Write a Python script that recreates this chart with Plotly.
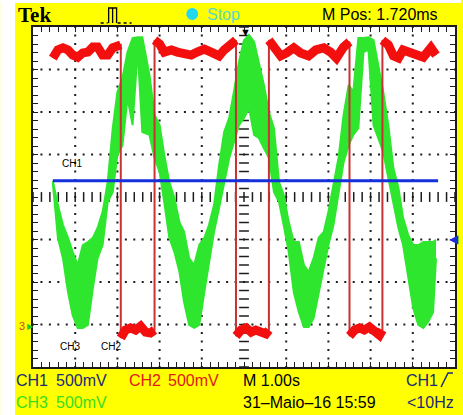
import numpy as np
import plotly.graph_objects as go

W, H = 463, 415
L, R, T, B = 33, 6, 27, 48
PW, PH = W - L - R, H - T - B


def px(x):
    return (x - L) / PW


def py(y):
    return (H - B - y) / PH


# ---------------- data (time in s = divisions, amplitude in divisions) -------------
time_s = [0.47, 0.59, 0.71, 0.83, 0.94, 1.06, 1.18, 1.30, 1.42, 1.53, 1.65, 1.77, 1.89, 2.00,
          2.12, 2.24, 2.36, 2.48, 2.59,
          2.76, 2.88, 3.00, 3.11, 3.23, 3.35, 3.47, 3.58, 3.70, 3.82, 3.94, 4.06, 4.17, 4.29,
          4.41, 4.53, 4.65, 4.76, 4.88, 5.00,
          5.12, 5.24, 5.35, 5.47, 5.59, 5.71, 5.83, 5.94, 6.06, 6.18, 6.30, 6.42, 6.53, 6.65,
          6.77, 6.89, 7.00, 7.12, 7.24, 7.36,
          7.48, 7.59, 7.71, 7.83, 7.95, 8.07, 8.18, 8.30, 8.42, 8.54, 8.66, 8.77, 8.89, 9.01,
          9.13, 9.25, 9.36, 9.48,
          9.55]

ch3_upper = [0.38, -0.19, -0.66, -0.96, -1.29, -1.60, -1.13, -1.06, -0.96, -0.73, -0.35, 0.35,
             1.62, 2.47, 2.80, 3.41, 3.74, 3.76, 3.76,
             2.87, 1.93, 1.69, 0.99, 0.35, -0.02, -0.59, -0.82, -1.44, -1.60, -1.13, -0.96,
             -0.66, -0.19, 0.75, 1.53, 1.86, 2.47, 3.18, 3.69,
             3.81, 3.65, 3.18, 2.64, 2.00, 1.62, 0.35, 0.05, -0.59, -1.06, -1.06, -1.60, -1.76,
             -1.44, -0.96, -0.82, -0.35, 0.28, 0.92, 1.93,
             2.64, 2.47, 3.74, 3.74, 3.76, 3.69, 3.11, 2.47, 1.69, 0.68, 0.21, -0.49, -0.89,
             -1.13, -1.13, -1.06, -1.06, -1.06,
             -1.01]

ch3_lower = [0.33, -0.96, -1.44, -2.24, -2.78, -3.08, -3.08, -3.01, -2.14, -1.44, -1.13, -0.12,
             0.12, 0.99, 1.22, 2.33, 1.69, 3.46, 1.53,
             1.46, 0.92, 0.59, -0.12, -0.96, -1.29, -1.76, -2.47, -3.01, -3.08, -3.01, -2.24,
             -1.60, -0.82, -0.26, 0.35, 0.92, 1.29, 1.69, 1.86,
             2.09, 1.46, 1.39, 1.15, 0.92, 0.12, -0.12, -0.66, -1.29, -2.24, -2.71, -3.06, -3.06,
             -2.85, -2.24, -1.60, -1.13, -0.66, 0.12, 0.82,
             1.22, 1.46, 1.62, 3.41, 3.46, 1.69, 1.39, 1.06, 0.45, -0.12, -0.73, -1.13, -1.91,
             -2.61, -3.01, -3.08, -2.94, -2.71,
             -1.44]

ch2_t = [0.47, 0.59, 0.71, 0.83, 0.94, 1.06, 1.18, 1.30, 1.42, 1.53, 1.65, 1.77, 1.89, 2.00, 2.08,
         2.08, 2.19, 2.31, 2.43, 2.55, 2.67, 2.78, 2.88,
         2.88, 3.00, 3.11, 3.28, 3.42, 3.58, 3.75, 3.89, 4.06, 4.22, 4.41, 4.53, 4.69, 4.81,
         4.81, 4.93, 5.05, 5.17, 5.28, 5.40, 5.52, 5.59,
         5.59, 5.71, 5.87, 6.01, 6.18, 6.34, 6.53, 6.70, 6.89, 7.05, 7.19, 7.36, 7.50,
         7.50, 7.62, 7.74, 7.85, 7.97, 8.09, 8.21, 8.28,
         8.28, 8.42, 8.54, 8.66, 8.77, 8.94, 9.08, 9.25, 9.43, 9.55]
ch2_v = [3.27, 3.46, 3.51, 3.46, 3.34, 3.29, 3.39, 3.41, 3.53, 3.53, 3.34, 3.34, 3.51, 3.58, 3.58,
         -3.32, -3.13, -3.08, -3.13, -3.04, -3.18, -3.20, -3.13,
         3.69, 3.60, 3.41, 3.46, 3.41, 3.39, 3.34, 3.41, 3.48, 3.41, 3.32, 3.46, 3.60, 3.69,
         -3.27, -3.13, -3.08, -3.18, -3.13, -3.20, -3.22, -3.13,
         3.69, 3.53, 3.32, 3.39, 3.51, 3.39, 3.32, 3.46, 3.51, 3.41, 3.27, 3.53, 3.65,
         -3.27, -3.13, -3.08, -3.13, -3.06, -3.18, -3.25, -3.13,
         3.69, 3.58, 3.32, 3.27, 3.46, 3.41, 3.39, 3.29, 3.51, 3.34]

ch1_t = [0.47, 9.60]
ch1_v = [0.38, 0.38]

# ---------------- figure ----------------
GREEN = "#2ee62e"
RED = "#f40f0f"
BLUE = "#1430dc"
INK = "#1c1c1c"

fig = go.Figure()

# grid dots
gx, gy = [], []
steps = np.round(np.arange(0, 8.0001, 0.2) - 4, 2)
for xv in [1, 2, 3, 4, 6, 7, 8, 9]:
    gx += [xv] * len(steps)
    gy += list(steps)
hsteps = np.round(np.arange(0, 10.0001, 0.2), 2)
for yv in [-3, -2, -1, 1, 2, 3]:
    gx += list(hsteps)
    gy += [yv] * len(hsteps)
fig.add_trace(go.Scatter(x=gx, y=gy, mode="markers", hoverinfo="skip",
                         marker=dict(symbol="square", size=2, color=INK, line=dict(width=0))))
# centre cross ticks
fig.add_trace(go.Scatter(x=list(hsteps), y=[0] * len(hsteps), mode="markers", hoverinfo="skip",
                         marker=dict(symbol="line-ns", size=7, line=dict(width=1.5, color=INK))))
fig.add_trace(go.Scatter(x=[5] * len(steps), y=list(steps), mode="markers", hoverinfo="skip",
                         marker=dict(symbol="line-ew", size=7, line=dict(width=1.5, color=INK))))

# CH3 (green) as a noisy band
fig.add_trace(go.Scatter(x=time_s, y=ch3_lower, mode="lines",
                         line=dict(color=GREEN, width=2), hoverinfo="skip"))
fig.add_trace(go.Scatter(x=time_s, y=ch3_upper, mode="lines", fill="tonexty",
                         fillcolor=GREEN, line=dict(color=GREEN, width=2), hoverinfo="skip"))

# CH2 (red): thin transitions + thick levels
fig.add_trace(go.Scatter(x=ch2_t, y=ch2_v, mode="lines",
                         line=dict(color="#c83232", width=2), hoverinfo="skip"))
seg_t, seg_v = [], []
for i, (t, v) in enumerate(zip(ch2_t, ch2_v)):
    if i > 0 and t == ch2_t[i - 1]:
        seg_t.append(None)
        seg_v.append(None)
    seg_t.append(t)
    seg_v.append(v)
fig.add_trace(go.Scatter(x=seg_t, y=seg_v, mode="lines", connectgaps=False,
                         line=dict(color=RED, width=9), hoverinfo="skip"))

# CH1 (blue)
fig.add_trace(go.Scatter(x=ch1_t, y=ch1_v, mode="lines",
                         line=dict(color=BLUE, width=3), hoverinfo="skip"))

ax = dict(showgrid=False, zeroline=False, showticklabels=False, ticks="inside",
          ticklen=5, tickwidth=1, tickcolor=INK, showline=True, linecolor=INK,
          linewidth=2, mirror="ticks", dtick=0.2, tick0=0, fixedrange=True)
fig.update_xaxes(range=[0, 10], **ax)
fig.update_yaxes(range=[-4, 4], **ax)

NARROW = "Liberation Sans Narrow, Arial Narrow, Liberation Sans, Arial, sans-serif"
SANS = "Liberation Sans, Arial, sans-serif"

ann = []


def txt(text, x, y, color, size=16, family=NARROW, anchor="left", **kw):
    ann.append(dict(text=text, x=px(x), y=py(y), xref="paper", yref="paper",
                    xanchor=anchor, yanchor="middle", showarrow=False,
                    font=dict(family=family, size=size, color=color), **kw))


txt("<b>Tek</b>", 16, 15, "#000000", size=21, family="Liberation Serif, Times New Roman, serif")
txt("Stop", 206, 15, "#5cd8cc", size=16)
txt("M Pos: 1.720ms", 321, 15, "#000000", size=16)

NAVY = "#1a2a78"
txt("CH1", 14, 380, NAVY)
txt("500mV", 54, 380, NAVY)
txt("CH2", 127, 380, "#e01818")
txt("500mV", 167, 380, "#e01818")
txt("M 1.00s", 242, 380, "#000000")
txt("CH1", 406, 380, NAVY)
txt("CH3", 14, 402, "#38dd20")
txt("500mV", 54, 402, "#38dd20")
txt("31\u2013Maio\u201316 15:59", 242, 402, "#000000")
txt("&lt;10Hz", 407, 402, NAVY)

# labels inside screen
txt("CH1", 60, 163, "#000000", size=10, family=SANS)
txt("CH3", 58, 346, "#000000", size=10, family=SANS)
txt("CH2", 99, 346, "#000000", size=10, family=SANS)

# markers
txt("3", 17, 326, "#d04a10", size=11, family=SANS)
txt("\u25b6", 25, 326, "#22cc22", size=8, family=SANS)
txt("\u25c0", 449, 239, BLUE, size=12, family=SANS)
txt("\u25bc", 247, 32, "#000000", size=11, family=SANS, anchor="center")

shapes = [
    # white margins outside the yellow bezel
    dict(type="rect", xref="paper", yref="paper", x0=px(0), x1=px(15), y0=py(H), y1=py(0),
         fillcolor="white", line=dict(width=0), layer="below"),
    dict(type="rect", xref="paper", yref="paper", x0=px(0), x1=px(W), y0=py(3), y1=py(0),
         fillcolor="white", line=dict(width=0), layer="below"),
    # stop indicator
    dict(type="circle", xref="paper", yref="paper", x0=px(187), x1=px(199), y0=py(20), y1=py(8),
         fillcolor="#22d8f0", line=dict(width=0)),
    # trigger pulse icon
    dict(type="path", xref="paper", yref="paper",
         path=f"M {px(109)} {py(23)} L {px(109)} {py(8)} L {px(117)} {py(8)} L {px(117)} {py(23)}"
              f" M {px(113)} {py(8)} L {px(113)} {py(23)}",
         line=dict(color="#000000", width=1.3)),
    dict(type="line", xref="paper", yref="paper", x0=px(101), x1=px(108), y0=py(23), y1=py(23),
         line=dict(color="#000000", width=1.3, dash="dot")),
    dict(type="line", xref="paper", yref="paper", x0=px(118), x1=px(132), y0=py(23), y1=py(23),
         line=dict(color="#000000", width=1.3, dash="dot")),
    # rising edge trigger symbol
    dict(type="path", xref="paper", yref="paper",
         path=f"M {px(443)} {py(387)} L {px(450)} {py(373)} L {px(455)} {py(373)}",
         line=dict(color=NAVY, width=1.5)),
]

fig.update_layout(
    width=W, height=H,
    margin=dict(l=L, r=R, t=T, b=B, pad=0),
    paper_bgcolor="#ffff00",
    plot_bgcolor="#ffffff",
    showlegend=False,
    annotations=ann,
    shapes=shapes,
)

fig.write_html("out.html", config=dict(displayModeBar=False),
               post_script="document.body.style.margin='0px';document.body.style.overflow='hidden';")
